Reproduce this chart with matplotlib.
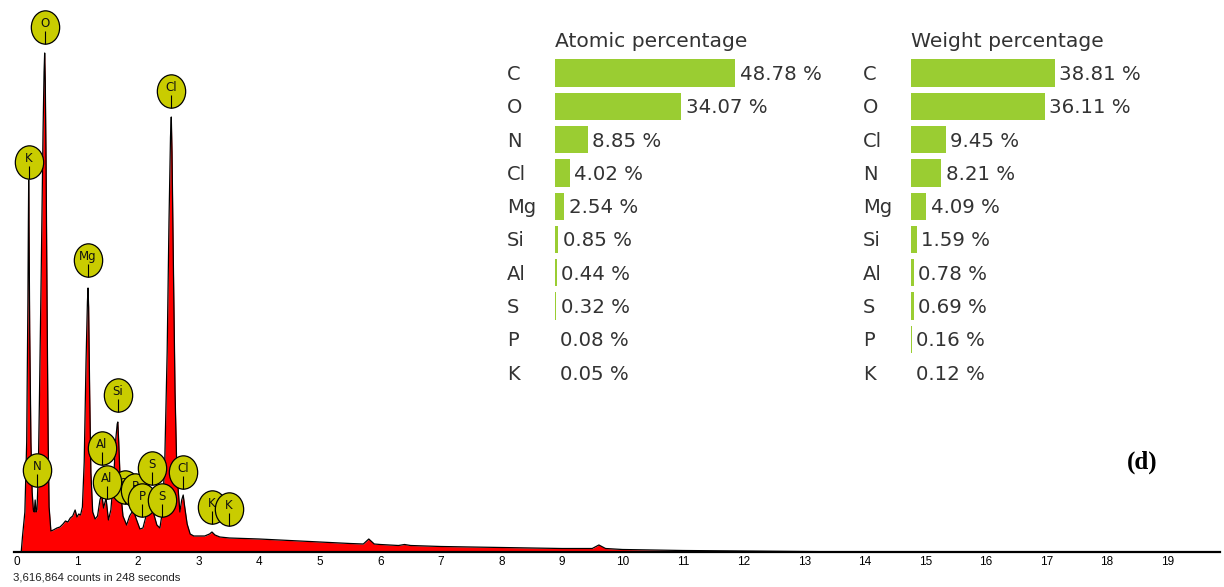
import numpy as np
import matplotlib
matplotlib.use("Agg")
import matplotlib.pyplot as plt
from matplotlib.path import Path
from matplotlib.transforms import Affine2D

# EDS spectrum: energy (keV) and relative intensity
energy = [0.00, 0.07, 0.09, 0.13, 0.16, 0.18, 0.188, 0.193, 0.198, 0.21, 0.23, 0.25,
          0.27, 0.285, 0.30, 0.315, 0.33, 0.35, 0.37, 0.40, 0.43, 0.447, 0.457, 0.467,
          0.48, 0.50, 0.515, 0.53, 0.56, 0.60, 0.66, 0.71, 0.76, 0.80, 0.84, 0.88,
          0.92, 0.96, 0.99, 1.02, 1.05, 1.08, 1.11, 1.14, 1.163, 1.173, 1.183, 1.20,
          1.22, 1.25, 1.29, 1.33, 1.37, 1.40, 1.43, 1.47, 1.51, 1.55, 1.60, 1.63,
          1.655, 1.665, 1.68, 1.71, 1.75, 1.81, 1.86, 1.92, 1.97, 2.03, 2.08, 2.14,
          2.20, 2.25, 2.31, 2.36, 2.40, 2.44, 2.48, 2.51, 2.535, 2.548, 2.56, 2.58,
          2.61, 2.64, 2.69, 2.72, 2.745, 2.77, 2.81, 2.86, 2.92, 3.00, 3.10, 3.18,
          3.22, 3.27, 3.35, 3.51, 4.0, 4.5, 5.0, 5.5, 5.72, 5.81, 5.9, 6.0, 6.3,
          6.4, 6.5, 7.0, 7.5, 8.0, 8.5, 9.0, 9.5, 9.61, 9.72, 10.0, 11.0, 12.0, 13.0,
          14.0, 19.9]
counts = [0, 0, 15, 40, 110, 250, 330, 372, 330, 220, 110, 60,
          42, 40, 52, 40, 42, 75, 150, 280, 420, 480, 499, 470,
          390, 220, 110, 45, 21, 22, 24, 25, 28, 31, 30, 34,
          36, 42, 35, 38, 37, 45, 90, 190, 250, 264, 245, 160,
          80, 40, 33, 36, 52, 58, 44, 54, 32, 42, 78, 112,
          128, 130, 110, 62, 36, 27, 36, 42, 33, 23, 24, 38,
          46, 40, 27, 24, 40, 90, 200, 330, 415, 435, 400, 300,
          160, 80, 40, 52, 57, 45, 28, 18, 16, 16, 16, 18,
          20, 17, 15, 14, 13, 11.5, 10, 8.5, 8, 13, 8, 7.5, 6.5,
          7.5, 6.5, 5.5, 5, 4.5, 4, 3.5, 3.5, 7, 3.5, 2.5, 1.5, 1, 0.5,
          0, 0]

# element markers on the spectrum: symbol, energy, marker height
peak_labels = ["O", "Cl", "K", "Mg", "Si", "Al", "Si", "Al", "N", "P",
               "S", "P", "S", "Cl", "K", "K"]
peak_energy = [0.462, 2.543, 0.193, 1.173, 1.668, 1.404, 1.784, 1.486, 0.330, 1.949,
               2.230, 2.064, 2.395, 2.742, 3.220, 3.501]
peak_height = [525, 461, 390, 292, 157, 104, 65, 70, 82, 62,
               84, 52, 52, 80, 45, 43]

xticks = list(range(0, 20))

# quantification tables
atomic_elems = ["C", "O", "N", "Cl", "Mg", "Si", "Al", "S", "P", "K"]
atomic_pct = [48.78, 34.07, 8.85, 4.02, 2.54, 0.85, 0.44, 0.32, 0.08, 0.05]
weight_elems = ["C", "O", "Cl", "N", "Mg", "Si", "Al", "S", "P", "K"]
weight_pct = [38.81, 36.11, 9.45, 8.21, 4.09, 1.59, 0.78, 0.69, 0.16, 0.12]

W, H = 1224, 587
fig = plt.figure(figsize=(W / 100, H / 100), dpi=100)

px_per_kev = 60.55
ax = fig.add_axes([14 / W, 35 / H, (1220 - 14) / W, 552 / H])
ax.set_xlim((14 - 17) / px_per_kev, (1220 - 17) / px_per_kev)
ax.set_ylim(0, 552)
ax.fill_between(energy, counts, color="#ff0000", lw=0, zorder=2)
ax.plot(energy, counts, color="black", lw=0.9, zorder=3)
for s in ["left", "top", "right"]:
    ax.spines[s].set_visible(False)
ax.spines["bottom"].set_linewidth(1.6)
ax.set_yticks([])
ax.set_xticks(xticks)
ax.tick_params(axis="x", length=0, pad=3, labelsize=8.5)
for lab in ax.get_xticklabels():
    lab.set_fontfamily("Liberation Sans")

oval = Path.unit_circle().transformed(Affine2D().scale(0.85, 1.0))
stem = Path([(0, -0.25), (0, -1.0)], [Path.MOVETO, Path.LINETO])
for i, (lab, e, h) in enumerate(zip(peak_labels, peak_energy, peak_height)):
    z = 10 + i * 0.1
    ax.plot(e, h, marker=oval, ms=24, mfc="#c9cc00", mec="black", mew=0.9,
            ls="none", zorder=z, clip_on=False)
    ax.plot(e, h, marker=stem, ms=24, mec="black", mew=0.8, ls="none",
            zorder=z + 0.01, clip_on=False)
    ax.annotate(lab, (e, h), xytext=(0, 2.5), textcoords="offset points",
                ha="center", va="center", fontsize=8.5, color="#111111",
                zorder=z + 0.02)

fig.text(13 / W, 1 - 578 / H, "3,616,864 counts in 248 seconds", fontsize=8.2,
         family="Liberation Sans", color="#222222", va="center", ha="left")
fig.text(1142 / W, 1 - 462 / H, "(d)", fontsize=18, fontweight="bold",
         family="Liberation Serif", ha="center", va="center")

px_per_pct = 3.7
row_px = 33.3
text_col = "#333333"


def table(left_px, title, elems, vals):
    tab = fig.add_axes([left_px / W, (H - (73 + 9.5 * row_px)) / H,
                        300 / W, 10 * row_px / H])
    tab.set_xlim(0, 300 / px_per_pct)
    tab.set_ylim(9.5, -0.5)
    tab.axis("off")
    rows = np.arange(len(vals))
    tab.barh(rows, vals, height=0.82, color="#9acd32", lw=0, antialiased=False)
    tab.text(0, -0.79, title, fontsize=14.6, color=text_col, va="baseline", ha="left")
    for r, el, v in zip(rows, elems, vals):
        tab.annotate(el, (0, r + 0.21), xytext=(-48 * 0.72, 0),
                     textcoords="offset points", fontsize=14, color=text_col,
                     va="baseline", ha="left")
        tab.annotate("%.2f %%" % v, (v, r + 0.21), xytext=(4.5 * 0.72, 0),
                     textcoords="offset points", fontsize=14.2, color=text_col,
                     va="baseline", ha="left")


table(555, "Atomic percentage", atomic_elems, atomic_pct)
table(911, "Weight percentage", weight_elems, weight_pct)

fig.savefig("out.png", dpi=100)
